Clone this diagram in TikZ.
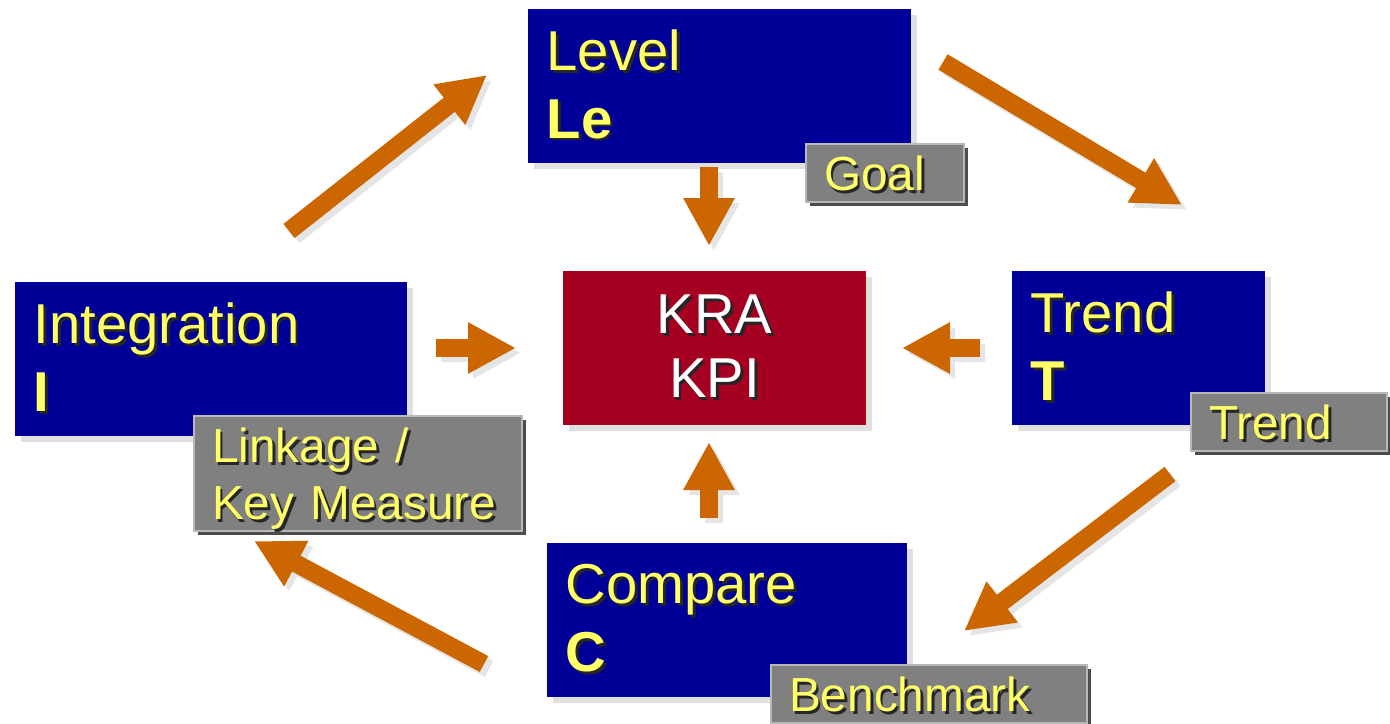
\documentclass[tikz,border=0pt]{standalone}
\usepackage{fontspec}
\setmainfont{Liberation Sans}
\usetikzlibrary{arrows.meta,shadows}

\definecolor{boxblue}{HTML}{000099}
\definecolor{kpired}{HTML}{A50021}
\definecolor{flowor}{HTML}{CC6600}
\definecolor{txtyel}{HTML}{FFFF66}
\definecolor{tagrey}{HTML}{808080}
\newcommand\shd[1]{\makebox[0pt][l]{\kern0.8pt\raisebox{-0.8pt}{\color{black!85}#1}}#1}

\tikzset{
  bigbox/.style={fill=boxblue, text=txtyel, anchor=north west, align=left,
    inner xsep=0.19cm, minimum height=1.54cm, font=\fontsize{16}{19.2}\selectfont,
    drop shadow={shadow xshift=0.06cm, shadow yshift=-0.06cm, fill=black!12, opacity=1}},
  tagbox/.style={fill=tagrey, draw=black!28, line width=0.6pt, text=txtyel,
    anchor=north west, align=left, inner xsep=0.18cm, text depth=0pt,
    minimum height=0.56cm, font=\fontsize{13.6}{16.2}\selectfont,
    drop shadow={shadow xshift=0.035cm, shadow yshift=-0.035cm, fill=black!70, opacity=1}},
  flow/.style={draw=flowor, line width=0.18cm, -{Triangle[length=0.48cm,width=0.48cm]}},
  flowshade/.style={flow, draw=black!10, transform canvas={shift={(0.05,-0.05)}}}
}

\begin{document}
\begin{tikzpicture}
    \useasboundingbox (0,0) rectangle (13.9,-7.24);

    % main boxes
    \node[bigbox, text width=3.45cm] (level) at (5.27,-0.08) {\shd{Level}\\\textbf{\shd{Le}}};
    \node[bigbox, text width=3.54cm] (integ) at (0.14,-2.81) {\shd{Integration}\\\textbf{\shd{I}}};
    \node[bigbox, text width=2.15cm] (trend) at (10.11,-2.70) {\shd{Trend}\\\textbf{\shd{T}}};
    \node[bigbox, text width=3.22cm] (comp) at (5.46,-5.42) {\shd{Compare}\\\textbf{\shd{C}}};
    \node[bigbox, anchor=center, align=center, fill=kpired, text=white,
          font=\fontsize{16}{18.2}\selectfont, minimum width=3.03cm] (kpi) at (7.145,-3.48)
          {\shd{KRA}\\\shd{KPI}};

    % tags
    \node[tagbox, text width=1.22cm] (goal) at (8.05,-1.43) {\shd{Goal}};
    \node[tagbox, text width=2.92cm, minimum height=1.12cm, text depth=16.2pt] (link) at (1.93,-4.15)
        {\shd{Linkage /}\\\shd{Key\ Measure}};
    \node[tagbox, text width=1.60cm] (trtag) at (11.90,-3.92) {\shd{Trend}};
    \node[tagbox, text width=2.80cm] (bench) at (7.70,-6.64) {\shd{Benchmark}};

    % arrow ends
    \coordinate (lk1) at (7.09,-1.67);  \coordinate (lk2) at (7.09,-2.46);
    \coordinate (ck1) at (7.09,-5.18);  \coordinate (ck2) at (7.09,-4.42);
    \coordinate (ik1) at (4.36,-3.48);  \coordinate (ik2) at (5.16,-3.48);
    \coordinate (tk1) at (9.80,-3.48);  \coordinate (tk2) at (9.02,-3.48);
    \coordinate (il1) at (2.89,-2.31);  \coordinate (il2) at (4.87,-0.75);
    \coordinate (lt1) at (9.43,-0.62);  \coordinate (lt2) at (11.82,-2.05);
    \coordinate (tc1) at (11.70,-4.74); \coordinate (tc2) at (9.64,-6.31);
    \coordinate (ci1) at (4.84,-6.64);  \coordinate (ci2) at (2.54,-5.41);

    \foreach \p in {lk,ck,ik,tk,il,lt,tc,ci}{
        \draw[flowshade] (\p1) -- (\p2);
        \draw[flow] (\p1) -- (\p2);
    }
\end{tikzpicture}
\end{document}
